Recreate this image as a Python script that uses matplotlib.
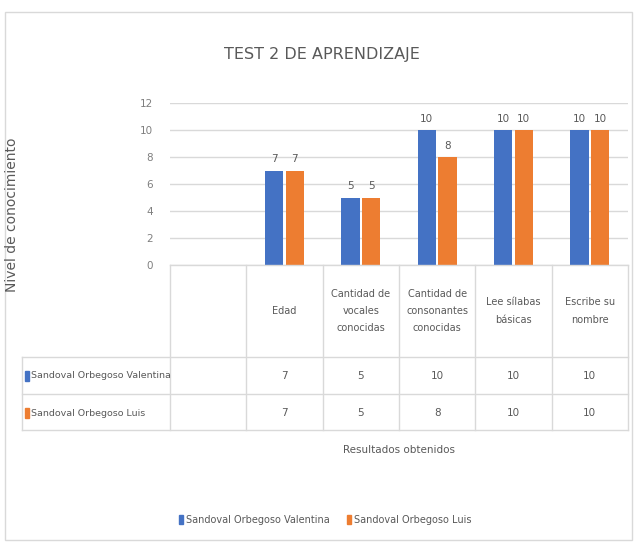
import matplotlib
matplotlib.use('Agg')
import matplotlib.pyplot as plt
from matplotlib.transforms import blended_transform_factory
from matplotlib.patches import Rectangle, Patch

plt.rcParams['font.family'] = ['DejaVu Sans']

# data
categorias = ["", "Edad", "Cantidad de\nvocales\nconocidas", "Cantidad de\nconsonantes\nconocidas",
              "Lee sílabas\nbásicas", "Escribe su\nnombre"]
series = ["Sandoval Orbegoso Valentina", "Sandoval Orbegoso Luis"]
valentina = [None, 7, 5, 10, 10, 10]
luis = [None, 7, 5, 8, 10, 10]
colores = ['#4472C4', '#ED7D31']
yticks = [0, 2, 4, 6, 8, 10, 12]

W, H = 635, 546
fig = plt.figure(figsize=(W/100, H/100), dpi=100)
gris = '#595959'

def fy(py):
    return 1 - py/H

# borde exterior del grafico
fig.patches.append(Rectangle((5/W, fy(540)), 627/W, (540-12)/H, transform=fig.transFigure,
                             fill=False, edgecolor='#D9D9D9', lw=1))

ax = fig.add_axes([170/W, fy(265), (628-170)/W, (265-103)/H])
ax.set_xlim(-0.5, len(categorias)-0.5)
ax.set_ylim(0, 12)
ax.set_yticks(yticks)
ax.yaxis.grid(True, color='#D9D9D9', lw=1)
ax.set_axisbelow(True)
for s in ['top', 'right', 'left', 'bottom']:
    ax.spines[s].set_visible(False)
ax.tick_params(axis='y', length=0, labelsize=7.5, labelcolor='#7F7F7F', pad=12)
ax.tick_params(axis='x', length=0, labelbottom=False)

w = 0.24
off = 0.135
for i, (a, b) in enumerate(zip(valentina, luis)):
    if a is None:
        continue
    for x, v, c in [(i-off, a, colores[0]), (i+off, b, colores[1])]:
        ax.bar(x, v, w, color=c)
        ax.text(x, v+0.45, str(v), ha='center', va='bottom', fontsize=7.5, color=gris)

# tabla de datos
tr = blended_transform_factory(ax.transData, fig.transFigure)
lc = '#D9D9D9'
n = len(categorias)
fig.add_artist(plt.Line2D([170/W, 628/W], [fy(265), fy(265)], color=lc, lw=1, transform=fig.transFigure))
for py in [357, 394, 430]:
    fig.add_artist(plt.Line2D([22/W, 628/W], [fy(py), fy(py)], color=lc, lw=1, transform=fig.transFigure))
for k in range(n+1):
    fig.add_artist(plt.Line2D([k-0.5, k-0.5], [fy(265), fy(430)], color=lc, lw=1, transform=tr))
fig.add_artist(plt.Line2D([22/W, 22/W], [fy(357), fy(430)], color=lc, lw=1, transform=fig.transFigure))

for k, cat in enumerate(categorias):
    fig.text(k, fy(311), cat, transform=tr, ha='center', va='center', fontsize=7,
             color=gris, linespacing=1.9)

for r, (nombre, vals, c) in enumerate(zip(series, [valentina, luis], colores)):
    yy = fy(376 + r*37)
    fig.patches.append(Rectangle((25/W, yy-5/H), 4/W, 10/H, transform=fig.transFigure, color=c))
    fig.text(31/W, yy, nombre, ha='left', va='center', fontsize=6.8, color=gris)
    for k, v in enumerate(vals):
        if v is None:
            continue
        fig.text(k, yy, str(v), transform=tr, ha='center', va='center', fontsize=7.5, color=gris)

fig.text(322/W, fy(55), "TEST 2 DE APRENDIZAJE", ha='center', va='center', fontsize=11.5, color=gris)
fig.text(12/W, fy(215), "Nivel de conocimiento", rotation=90, ha='center', va='center',
         fontsize=10, color=gris)
fig.text(399/W, fy(450), "Resultados obtenidos", ha='center', va='center', fontsize=7.5, color=gris)

# leyenda
handles = [Patch(color=c, label=s) for s, c in zip(series, colores)]
fig.legend(handles=handles, loc='center', bbox_to_anchor=(325/W, fy(520)), ncol=2, frameon=False,
           fontsize=7, labelcolor=gris, handlelength=0.4, handleheight=1.0, handletextpad=0.3,
           columnspacing=1.8)

fig.savefig('out.png', dpi=100)
